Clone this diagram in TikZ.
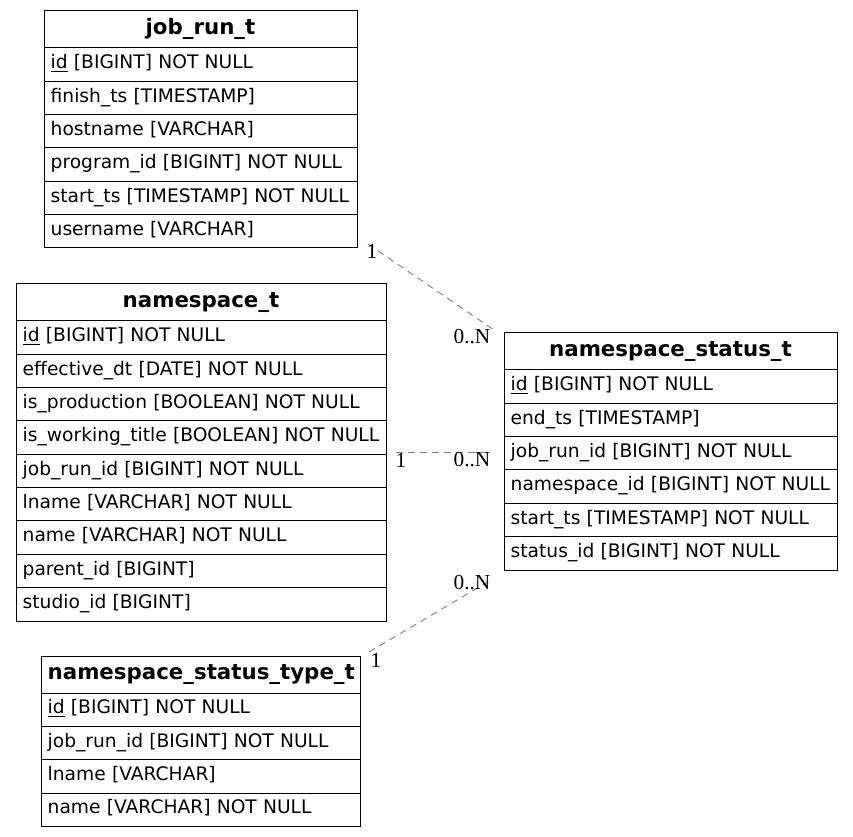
\documentclass[tikz,border=0pt]{standalone}
\usepackage{fontspec}
\setmainfont{DejaVu Sans}
\newfontfamily\lblfont{Liberation Serif}
\usetikzlibrary{positioning}
\tikzset{
  tblbase/.style={draw, line width=0.75pt, outer sep=0pt, inner xsep=5pt, inner ysep=0pt},
  tblhead/.style={tblbase, anchor=north west, text width=#1, minimum height=27.75pt, align=center, text height=11.5pt, text depth=4pt, font=\fontsize{16}{18}\selectfont\bfseries},
  tblrow/.style={tblbase, text width=#1, minimum height=25pt, align=left, text height=10pt, text depth=3.8pt, font=\fontsize{14}{16}\selectfont},
  rel/.style={draw=black!50, line width=0.7pt, dash pattern=on 5pt off 4pt},
  card/.style={inner sep=0pt, font=\lblfont\fontsize{16}{18}\selectfont}
}

\begin{document}
\begin{tikzpicture}[x=0.75pt,y=-0.75pt]
\useasboundingbox (0,0) rectangle (853,837);
% job_run_t
\node[tblhead=224.75pt] (jr) at (44,11) {job\_run\_t};
\node[tblrow=224.75pt, below=0pt of jr] (jr1) {\underline{id} [BIGINT] NOT NULL};
\node[tblrow=224.75pt, below=0pt of jr1] (jr2) {finish\_ts [TIMESTAMP]};
\node[tblrow=224.75pt, below=0pt of jr2] (jr3) {hostname [VARCHAR]};
\node[tblrow=224.75pt, below=0pt of jr3] (jr4) {program\_id [BIGINT] NOT NULL};
\node[tblrow=224.75pt, below=0pt of jr4] (jr5) {start\_ts [TIMESTAMP] NOT NULL};
\node[tblrow=224.75pt, below=0pt of jr5] (jr6) {username [VARCHAR]};
% namespace_t
\node[tblhead=267.5pt] (ns) at (16,284) {namespace\_t};
\node[tblrow=267.5pt, below=0pt of ns] (ns1) {\underline{id} [BIGINT] NOT NULL};
\node[tblrow=267.5pt, below=0pt of ns1] (ns2) {effective\_dt [DATE] NOT NULL};
\node[tblrow=267.5pt, below=0pt of ns2] (ns3) {is\_production [BOOLEAN] NOT NULL};
\node[tblrow=267.5pt, below=0pt of ns3] (ns4) {is\_working\_title [BOOLEAN] NOT NULL};
\node[tblrow=267.5pt, below=0pt of ns4] (ns5) {job\_run\_id [BIGINT] NOT NULL};
\node[tblrow=267.5pt, below=0pt of ns5] (ns6) {lname [VARCHAR] NOT NULL};
\node[tblrow=267.5pt, below=0pt of ns6] (ns7) {name [VARCHAR] NOT NULL};
\node[tblrow=267.5pt, below=0pt of ns7] (ns8) {parent\_id [BIGINT]};
\node[tblrow=267.5pt, below=0pt of ns8] (ns9) {studio\_id [BIGINT]};
% namespace_status_t
\node[tblhead=239.75pt] (nss) at (504,333) {namespace\_status\_t};
\node[tblrow=239.75pt, below=0pt of nss] (nss1) {\underline{id} [BIGINT] NOT NULL};
\node[tblrow=239.75pt, below=0pt of nss1] (nss2) {end\_ts [TIMESTAMP]};
\node[tblrow=239.75pt, below=0pt of nss2] (nss3) {job\_run\_id [BIGINT] NOT NULL};
\node[tblrow=239.75pt, below=0pt of nss3] (nss4) {namespace\_id [BIGINT] NOT NULL};
\node[tblrow=239.75pt, below=0pt of nss4] (nss5) {start\_ts [TIMESTAMP] NOT NULL};
\node[tblrow=239.75pt, below=0pt of nss5] (nss6) {status\_id [BIGINT] NOT NULL};
% namespace_status_type_t
\node[tblhead=229.25pt] (nst) at (41,656) {namespace\_status\_type\_t};
\node[tblrow=229.25pt, below=0pt of nst] (nst1) {\underline{id} [BIGINT] NOT NULL};
\node[tblrow=229.25pt, below=0pt of nst1] (nst2) {job\_run\_id [BIGINT] NOT NULL};
\node[tblrow=229.25pt, below=0pt of nst2] (nst3) {lname [VARCHAR]};
\node[tblrow=229.25pt, below=0pt of nst3] (nst4) {name [VARCHAR] NOT NULL};
% relations
\coordinate (jrend) at (368,244);
\coordinate (nssjr) at (494,330);
\coordinate (nsend) at (396,452);
\coordinate (nssns) at (492,452);
\coordinate (nstend) at (369,652);
\coordinate (nssst) at (491,580);
\draw[rel] (jrend) -- (nssjr);
\draw[rel] (nsend) -- (nssns);
\draw[rel] (nstend) -- (nssst);
\node[card] (c1a) at (372,251) {1};
\node[card] (c1b) at (472,337) {0..N};
\node[card] (c2a) at (401,460) {1};
\node[card] (c2b) at (472,460) {0..N};
\node[card] (c3a) at (376,660) {1};
\node[card] (c3b) at (472,583) {0..N};
\end{tikzpicture}
\end{document}
